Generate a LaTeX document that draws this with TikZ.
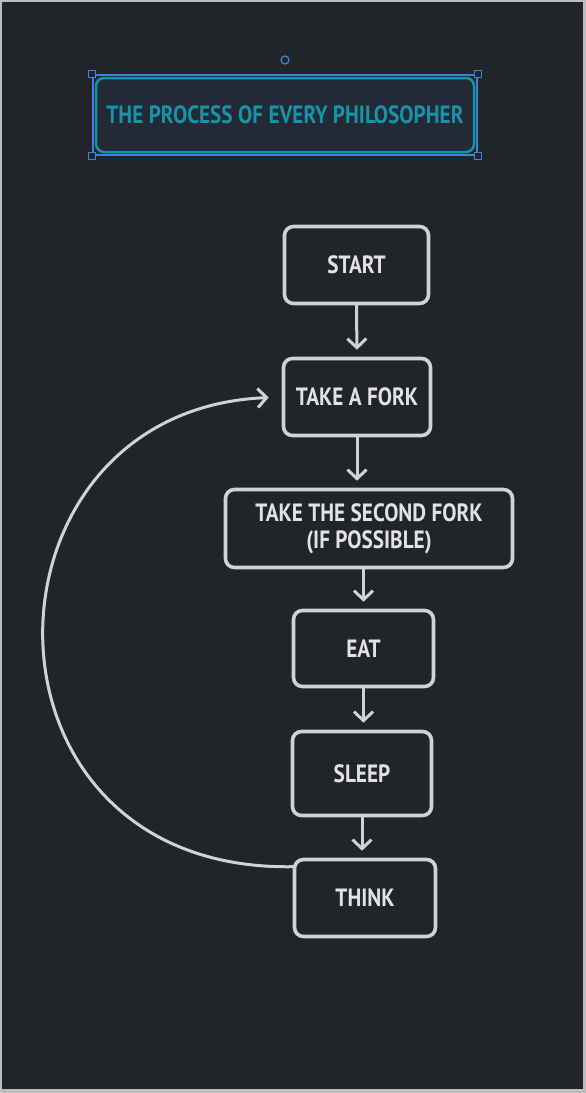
\documentclass[tikz,border=0pt]{standalone}
\usepackage{fontspec}
\setmainfont{PT Sans}[FakeStretch=0.85]
\usetikzlibrary{arrows.meta,calc}
\definecolor{bg}{HTML}{212429}
\definecolor{frame}{HTML}{BDBDBD}
\definecolor{ink}{HTML}{D2D2D2}
\definecolor{txt}{HTML}{E2E2E2}
\definecolor{teal}{HTML}{1495A8}
\definecolor{selblue}{HTML}{3D82E0}
\definecolor{titlefill}{HTML}{232935}
\tikzset{
  stepbox/.style={draw=ink, line width=3.6pt, rounded corners=9pt, fill=bg,
    text=txt, font=\bfseries\fontsize{25}{27}\selectfont, align=center, inner sep=0pt},
  arr/.style={draw=ink, line width=3pt, line cap=round, line join=round,
    -{Straight Barb[length=9pt,width=19pt,line width=3pt]}, shorten >=7pt},
  handle/.style={draw=selblue, fill=bg, line width=1.2pt, minimum size=7pt, inner sep=0pt},
}
\begin{document}
\begin{tikzpicture}[x=1pt,y=-1pt]
  % background and frame
  \fill[frame] (0,0) rectangle (586,1093);
  \fill[bg] (2,2) rectangle (583,1089);
  \useasboundingbox (0,0) rectangle (586,1093);

  % title
  \node[draw=teal, line width=2.5pt, rounded corners=8pt, fill=titlefill,
        minimum width=378pt, minimum height=74pt, inner sep=0pt,
        text=teal, font=\bfseries\fontsize{25}{28}\selectfont] (title) at (285,115)
        {THE PROCESS OF EVERY PHILOSOPHER};
  \node[draw=selblue, line width=2.4pt, minimum width=384pt, minimum height=80pt,
        inner sep=0pt] (sel) at (285,115) {};
  \node[handle] (h1) at (sel.north west) {};
  \node[handle] (h2) at (sel.north east) {};
  \node[handle] (h3) at (sel.south west) {};
  \node[handle] (h4) at (sel.south east) {};
  \node[draw=selblue, line width=1.2pt, circle, minimum size=8pt, inner sep=0pt] (rot) at (285,60) {};

  % steps
  \node[stepbox, minimum width=144pt, minimum height=77pt] (start) at (356.5,265) {START};
  \node[stepbox, minimum width=147pt, minimum height=77pt] (fork) at (357,397) {TAKE A FORK};
  \node[stepbox, minimum width=287pt, minimum height=78pt] (second) at (369,528.5)
        {TAKE THE SECOND FORK\\(IF POSSIBLE)};
  \node[stepbox, minimum width=140pt, minimum height=76pt] (eat) at (363.5,648.5) {EAT};
  \node[stepbox, minimum width=139pt, minimum height=84pt] (sleep) at (362,773.5) {SLEEP};
  \node[stepbox, minimum width=141pt, minimum height=77pt] (think) at (365,898) {THINK};

  % connectors
  \draw[arr] (start.south) -- (fork.north);
  \draw[arr] (fork.south) -- (fork.south |- second.north);
  \draw[arr] (eat.north |- second.south) -- (eat.north);
  \draw[arr] (eat.south) -- (sleep.north -| eat.south);
  \draw[arr] (sleep.south) -- (think.north -| sleep.south);
  \draw[arr, shorten >=13pt] ($(think.north west)+(0,9)$)
     .. controls (-40,872) and (-32,410) .. (fork.west);
\end{tikzpicture}
\end{document}
